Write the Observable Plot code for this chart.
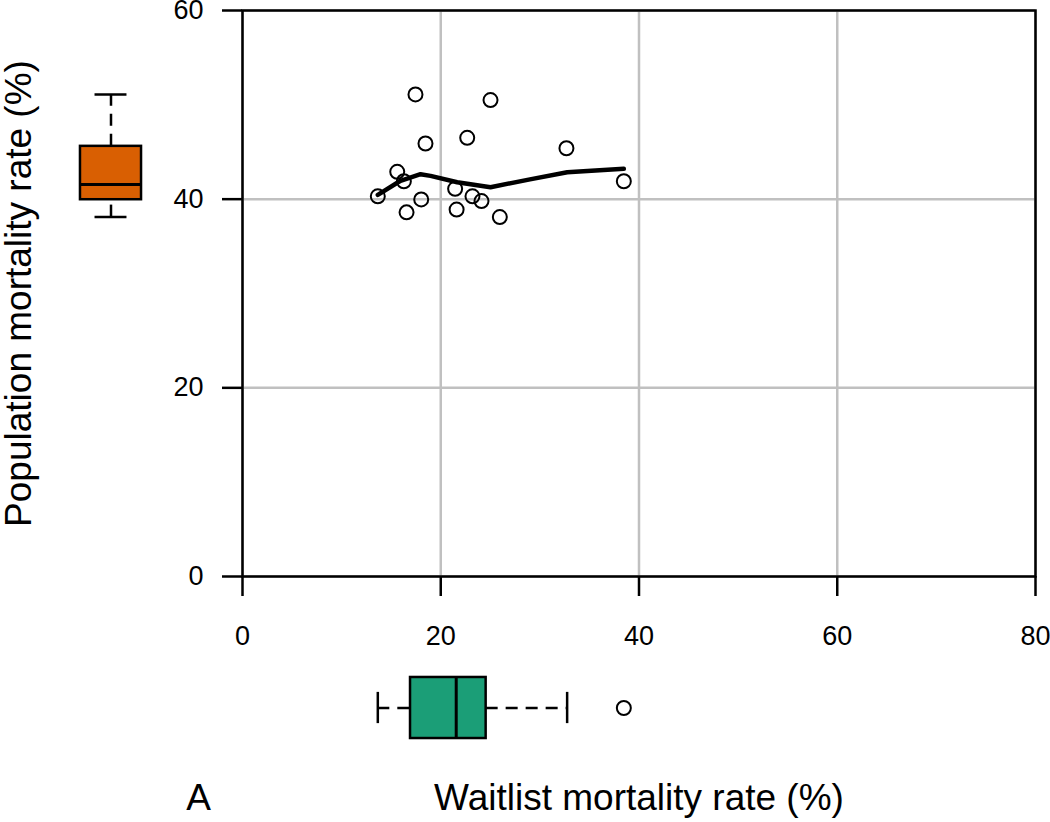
<!DOCTYPE html>
<html><head><meta charset="utf-8">
<script src="https://cdn.jsdelivr.net/npm/d3@7"></script>
<script src="https://cdn.jsdelivr.net/npm/@observablehq/plot@0.6"></script>
<style>
body{margin:0;background:#fff;}
#wrap{position:relative;width:1050px;height:822px;overflow:hidden;}
#wrap svg{position:absolute;}
</style></head><body><div id="wrap"></div>
<script>
// Data
const waitlist   = [17.45, 25.02, 22.67, 18.46, 32.68, 15.61, 16.28, 38.47, 21.45, 13.65, 23.20, 24.11, 18.03, 16.55, 21.60, 25.96];
const population = [51.10, 50.50, 46.50, 45.90, 45.40, 42.90, 41.90, 41.90, 41.10, 40.30, 40.30, 39.80, 39.97, 38.60, 38.90, 38.10];
const smoothX = [13.65, 15.94, 17.96, 18.97, 21.66, 25.02, 29.0, 32.76, 38.47];
const smoothY = [40.46, 41.95, 42.65, 42.47, 41.80, 41.27, 42.10, 42.86, 43.22];
const xTicks = [0, 20, 40, 60, 80];
const yTicks = [0, 20, 40, 60];
// box stats: [lower whisker, Q1, median, Q3, upper whisker]
const waitStats = [13.65, 16.95, 21.56, 24.58, 32.75];
const waitOutliers = [38.47];
const popStats = [38.10, 39.94, 41.56, 45.60, 51.10];
const popOutliers = [];
const xLabel = "Waitlist mortality rate (%)";
const yLabel = "Population mortality rate (%)";
const panelLabel = "A";

const W = 1050, H = 822, mL = 242, mR = 15, mT = 10, mB = 246;
const font = "'Liberation Sans', Arial, Helvetica, sans-serif";
const green = "#1B9E77", orange = "#D95F02";
const dash = "12,8";
const lw = 2.5;

const pts = waitlist.map((x, i) => ({x, y: population[i]}));
const smooth = smoothX.map((x, i) => ({x, y: smoothY[i]}));

const main = Plot.plot({
  width: W, height: H,
  marginLeft: mL, marginRight: mR, marginTop: mT, marginBottom: mB,
  style: {fontFamily: font, fontSize: "27px", background: "transparent", color: "black", overflow: "visible"},
  x: {domain: [0, 80], axis: null},
  y: {domain: [0, 60], axis: null},
  marks: [
    Plot.ruleX(xTicks, {stroke: "#c0c0c0", strokeWidth: 2.5}),
    Plot.ruleY(yTicks, {stroke: "#c0c0c0", strokeWidth: 2.5}),
    Plot.frame({stroke: "black", strokeWidth: lw}),
    Plot.axisX(xTicks, {tickSize: 20, tickPadding: 29, fontSize: 27, strokeWidth: lw, stroke: "black", fill: "black", label: null}),
    Plot.axisY(yTicks, {tickSize: 20, tickPadding: 19, fontSize: 27, strokeWidth: lw, stroke: "black", fill: "black", label: null}),
    Plot.dot(pts, {x: "x", y: "y", r: 7, stroke: "black", strokeWidth: 2, fill: "none"}),
    Plot.line(smooth, {x: "x", y: "y", stroke: "black", strokeWidth: 4.5, strokeLinecap: "round", strokeLinejoin: "round"}),
    Plot.text([xLabel], {text: d => d, frameAnchor: "bottom", dy: 222, fontSize: 37, lineAnchor: "middle", textAnchor: "middle", fill: "black"}),
    Plot.text([panelLabel], {text: d => d, frameAnchor: "bottom-left", dx: -44, dy: 222, fontSize: 37, lineAnchor: "middle", textAnchor: "middle", fill: "black"}),
    Plot.text([yLabel], {text: d => d, frameAnchor: "left", dx: -223, rotate: -90, fontSize: 37, lineAnchor: "middle", textAnchor: "middle", fill: "black"})
  ]
});
main.style.left = "0px"; main.style.top = "0px";

// bottom boxplot (waitlist), shares x scale layout
const bH = 71;
const bottom = Plot.plot({
  width: W, height: bH,
  marginLeft: mL, marginRight: mR, marginTop: 0, marginBottom: 0,
  style: {background: "transparent", overflow: "visible"},
  x: {domain: [0, 80], axis: null},
  y: {domain: [-1, 1], axis: null},
  marks: [
    Plot.ruleY([{a: waitStats[0], b: waitStats[1]}, {a: waitStats[3], b: waitStats[4]}], {x1: "a", x2: "b", y: 0, stroke: "black", strokeWidth: lw, strokeDasharray: dash}),
    Plot.ruleX([waitStats[0], waitStats[4]], {x: d => d, y1: -0.44, y2: 0.44, stroke: "black", strokeWidth: lw}),
    Plot.rect([waitStats], {x1: d => d[1], x2: d => d[3], y1: -0.86, y2: 0.86, fill: green, stroke: "black", strokeWidth: lw}),
    Plot.ruleX([waitStats[2]], {x: d => d, y1: -0.86, y2: 0.86, stroke: "black", strokeWidth: 3}),
    Plot.dot(waitOutliers, {x: d => d, y: 0, r: 7, stroke: "black", strokeWidth: 2, fill: "none"})
  ]
});
bottom.style.left = "0px"; bottom.style.top = "672px";

// left boxplot (population), shares y scale layout
const lW = 71;
const left = Plot.plot({
  width: lW, height: H,
  marginLeft: 0, marginRight: 0, marginTop: mT, marginBottom: mB,
  style: {background: "transparent", overflow: "visible"},
  x: {domain: [-1, 1], axis: null},
  y: {domain: [0, 60], axis: null},
  marks: [
    Plot.ruleX([{a: popStats[0], b: popStats[1]}, {a: popStats[3], b: popStats[4]}], {y1: "a", y2: "b", x: 0, stroke: "black", strokeWidth: lw, strokeDasharray: dash}),
    Plot.ruleY([popStats[0], popStats[4]], {y: d => d, x1: -0.45, x2: 0.45, stroke: "black", strokeWidth: lw}),
    Plot.rect([popStats], {y1: d => d[1], y2: d => d[3], x1: -0.86, x2: 0.86, fill: orange, stroke: "black", strokeWidth: lw}),
    Plot.ruleY([popStats[2]], {y: d => d, x1: -0.86, x2: 0.86, stroke: "black", strokeWidth: 3}),
    Plot.dot(popOutliers, {y: d => d, x: 0, r: 7, stroke: "black", strokeWidth: 2, fill: "none"})
  ]
});
left.style.left = "75px"; left.style.top = "0px";

const wrap = document.getElementById("wrap");
wrap.appendChild(main);
wrap.appendChild(bottom);
wrap.appendChild(left);
</script>
</body></html>
